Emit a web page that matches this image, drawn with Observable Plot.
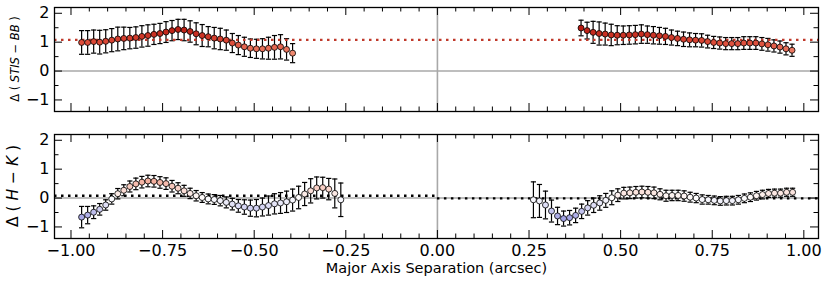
<!DOCTYPE html>
<html><head><meta charset="utf-8">
<script src="https://cdn.jsdelivr.net/npm/d3@7"></script>
<script src="https://cdn.jsdelivr.net/npm/@observablehq/plot@0.6"></script>
<style>
body{margin:0;background:#fff;}
#chart{width:830px;height:284px;}
#chart svg{display:block;}
</style></head><body><div id="chart"></div>
<script>
// ---- data ----
const xStep = 0.01645;
const topLeftStart = -0.971, topRightStart = 0.392;
const botLeftStart = -0.971, botRightStart = 0.262;

const topLeftY = [0.99,0.99,1.02,1.00,1.03,1.07,1.11,1.13,1.14,1.16,1.20,1.23,1.27,1.30,1.35,1.40,1.44,1.42,1.37,1.29,1.23,1.19,1.14,1.11,1.07,0.97,0.90,0.84,0.79,0.77,0.77,0.79,0.82,0.84,0.75,0.62];
const topLeftErr = [0.41,0.41,0.40,0.41,0.40,0.40,0.41,0.39,0.37,0.37,0.37,0.37,0.35,0.35,0.36,0.35,0.35,0.37,0.37,0.38,0.38,0.35,0.37,0.37,0.35,0.33,0.33,0.33,0.32,0.33,0.35,0.38,0.41,0.42,0.37,0.33];
const topRightY = [1.49,1.40,1.34,1.30,1.28,1.25,1.24,1.24,1.25,1.26,1.28,1.26,1.24,1.22,1.20,1.16,1.13,1.10,1.08,1.07,1.06,1.02,0.99,0.97,0.95,0.95,0.95,0.97,0.97,0.97,0.94,0.91,0.87,0.83,0.77,0.72];
const topRightErr = [0.27,0.29,0.38,0.40,0.38,0.37,0.33,0.32,0.32,0.32,0.32,0.30,0.30,0.29,0.28,0.26,0.25,0.25,0.24,0.23,0.23,0.22,0.21,0.21,0.21,0.21,0.21,0.22,0.22,0.22,0.22,0.22,0.21,0.21,0.21,0.21];
const botLeftY = [-0.66,-0.59,-0.49,-0.39,-0.24,-0.03,0.15,0.27,0.40,0.49,0.55,0.59,0.58,0.54,0.50,0.41,0.34,0.25,0.16,0.08,0.02,-0.03,-0.05,-0.09,-0.15,-0.21,-0.27,-0.31,-0.35,-0.35,-0.31,-0.26,-0.20,-0.17,-0.13,-0.07,0.02,0.14,0.25,0.35,0.36,0.31,0.16,-0.06];
const botLeftErr = [0.37,0.30,0.22,0.20,0.18,0.18,0.18,0.19,0.19,0.20,0.20,0.20,0.20,0.20,0.20,0.20,0.19,0.19,0.18,0.18,0.17,0.17,0.17,0.18,0.19,0.20,0.22,0.25,0.28,0.30,0.31,0.33,0.35,0.36,0.37,0.38,0.39,0.40,0.42,0.38,0.36,0.37,0.50,0.58];
const botRightY = [-0.06,-0.10,-0.24,-0.45,-0.62,-0.71,-0.68,-0.60,-0.46,-0.34,-0.25,-0.17,-0.08,0.01,0.10,0.17,0.18,0.20,0.21,0.20,0.18,0.13,0.08,0.09,0.09,0.07,0.03,0.00,-0.05,-0.06,-0.08,-0.10,-0.09,-0.09,-0.06,-0.01,0.03,0.08,0.12,0.16,0.17,0.17,0.20,0.20];
const botRightErr = [0.62,0.57,0.48,0.38,0.30,0.26,0.25,0.25,0.25,0.25,0.25,0.25,0.24,0.24,0.22,0.20,0.20,0.20,0.20,0.20,0.20,0.19,0.19,0.18,0.18,0.18,0.17,0.16,0.16,0.15,0.15,0.15,0.15,0.15,0.15,0.15,0.15,0.15,0.15,0.14,0.14,0.14,0.14,0.14];

const topMean = 1.08;
const botMeanLeft = 0.08, botMeanRight = -0.01;

const xDomain = [-1.045, 1.04];
const yDomain = [-1.4, 2.2];
const xMajor = [-1, -0.75, -0.5, -0.25, 0, 0.25, 0.5, 0.75, 1];
const xMinor = [-0.95,-0.9,-0.85,-0.8,-0.7,-0.65,-0.6,-0.55,-0.45,-0.4,-0.35,-0.3,-0.2,-0.15,-0.1,-0.05,0.05,0.1,0.15,0.2,0.3,0.35,0.4,0.45,0.55,0.6,0.65,0.7,0.8,0.85,0.9,0.95];
const yMajor = [-1, 0, 1, 2];
const yMinor = [-0.5, 0.5, 1.5];
const xLabel = "Major Axis Separation (arcsec)";
const topYLabel = [["Δ ( ", false], ["STIS", true], [" − ", false], ["BB", true], [" )", false]];
const botYLabel = [["Δ ( ", false], ["H", true], [" − ", false], ["K", true], [" )", false]];

// ---- helpers ----
const series = (start, ys, es) => ys.map((y, i) => ({x: start + i * xStep, y, e: es[i]}));
const topData = [...series(topLeftStart, topLeftY, topLeftErr), ...series(topRightStart, topRightY, topRightErr)];
const botData = [...series(botLeftStart, botLeftY, botLeftErr), ...series(botRightStart, botRightY, botRightErr)];

const W = 830, ML = 54, MR = 12;
const PW = W - ML - MR, PH = 104;
const capSymbol = {draw(ctx) { ctx.moveTo(-2.6, 0); ctx.lineTo(2.6, 0); }};

function panelMarks(data) {
  return [
    Plot.ruleY([0], {stroke: "#a8a8a8", strokeWidth: 1.6}),
    Plot.ruleX([0], {stroke: "#a8a8a8", strokeWidth: 1.6}),
    Plot.ruleX(data, {x: "x", y1: d => d.y - d.e, y2: d => d.y + d.e, stroke: "black", strokeWidth: 1.2}),
    Plot.dot(data, {x: "x", y: d => d.y - d.e, symbol: capSymbol, stroke: "black", strokeWidth: 1.2, fill: "none"}),
    Plot.dot(data, {x: "x", y: d => d.y + d.e, symbol: capSymbol, stroke: "black", strokeWidth: 1.2, fill: "none"}),
  ];
}
function tickMarks() {
  const t = {stroke: "black", strokeWidth: 1};
  return [
    Plot.ruleX(xMajor, {...t, insetTop: PH - 8}),
    Plot.ruleX(xMajor, {...t, insetBottom: PH - 8}),
    Plot.ruleX(xMinor, {...t, insetTop: PH - 4.5}),
    Plot.ruleX(xMinor, {...t, insetBottom: PH - 4.5}),
    Plot.ruleY(yMajor, {...t, insetRight: PW - 8}),
    Plot.ruleY(yMajor, {...t, insetLeft: PW - 8}),
    Plot.ruleY(yMinor, {...t, insetRight: PW - 4.5}),
    Plot.ruleY(yMinor, {...t, insetLeft: PW - 4.5}),
    Plot.frame({stroke: "black", strokeWidth: 1.3}),
    Plot.axisY({ticks: yMajor, tickSize: 0, tickPadding: 5, tickFormat: d3.format("d"), label: null, fontSize: 16})
  ];
}
function addYLabel(svg, x, y, size, parts) {
  const t = d3.select(svg).append("text")
    .attr("transform", `translate(${x},${y}) rotate(-90)`)
    .attr("text-anchor", "middle").attr("dy", "0.35em")
    .style("font-family", "DejaVu Sans").style("font-size", size + "px")
    .style("white-space", "pre").attr("fill", "black");
  parts.forEach(([s, it]) => t.append("tspan").text(s).style("font-style", it ? "italic" : "normal"));
}

const style = {fontFamily: "DejaVu Sans", fontSize: "16px", background: "white", color: "black"};

const topPlot = Plot.plot({
  width: W, height: 122, marginLeft: ML, marginRight: MR, marginTop: 7, marginBottom: 11,
  x: {domain: xDomain, axis: null},
  y: {domain: yDomain},
  color: {type: "linear", domain: [0.6, 1.0, 1.5], range: ["#f08c72", "#dc4a38", "#b81a10"]},
  style,
  marks: [
    ...panelMarks(topData),
    Plot.ruleY([topMean], {stroke: "#c0392b", strokeWidth: 2.4, strokeDasharray: "2.5,4.5"}),
    Plot.dot(topData, {x: "x", y: "y", fill: "y", r: 3, stroke: "black", strokeWidth: 0.8}),
    ...tickMarks()
  ]
});
addYLabel(topPlot, 15, 7 + PH / 2, 11.5, topYLabel);

const botPlot = Plot.plot({
  width: W, height: 162, marginLeft: ML, marginRight: MR, marginTop: 12, marginBottom: 46,
  x: {domain: xDomain},
  y: {domain: yDomain},
  color: {type: "linear", domain: [-1, 0, 1], range: ["#7b7bd9", "#ffffff", "#eb775a"]},
  style,
  marks: [
    ...panelMarks(botData),
    Plot.ruleY([botMeanLeft], {x1: xDomain[0], x2: 0, stroke: "black", strokeWidth: 2.4, strokeDasharray: "2.5,4.5"}),
    Plot.ruleY([botMeanRight], {x1: 0, x2: xDomain[1], stroke: "black", strokeWidth: 2.4, strokeDasharray: "2.5,4.5"}),
    Plot.dot(botData, {x: "x", y: "y", fill: "y", r: 3, stroke: "black", strokeWidth: 0.8}),
    ...tickMarks(),
    Plot.axisX({ticks: xMajor, tickSize: 0, tickPadding: 6, tickFormat: d3.format(".2f"), label: null, fontSize: 16}),
    Plot.text([xLabel], {frameAnchor: "bottom", dy: 34, fontSize: 14.5})
  ]
});
addYLabel(botPlot, 13, 12 + PH / 2, 15.5, botYLabel);

document.getElementById("chart").append(topPlot, botPlot);
</script>
</body></html>
